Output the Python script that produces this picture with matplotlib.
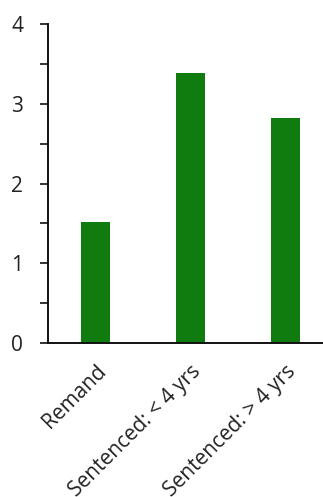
import matplotlib.pyplot as plt
from matplotlib.ticker import MultipleLocator
from matplotlib.transforms import ScaledTranslation

categories = ['Remand', 'Sentenced: < 4 yrs', 'Sentenced: > 4 yrs']
values = [1.52, 3.38, 2.82]

plt.rcParams['font.family'] = ['Open Sans', 'DejaVu Sans']

fig = plt.figure(figsize=(3.23, 4.97), dpi=100)
ax = fig.add_axes([48/323, 1-343/497, 1-48/323, (343-24)/497])

x = range(len(categories))
ax.bar(x, values, width=0.315, color='#107C10')

ax.set_ylim(0, 4)
ax.set_xlim(-0.5, 2.395)
ax.yaxis.set_major_locator(MultipleLocator(1))
ax.yaxis.set_minor_locator(MultipleLocator(0.5))
ax.set_xticks(list(x))
ax.set_xticklabels(categories, rotation=45, ha='right', rotation_mode='anchor', fontsize=15, color='#222222')

# nudge the rotated labels a little left
shift = ScaledTranslation(-6/100, 0, fig.dpi_scale_trans)
for lbl in ax.get_xticklabels():
    lbl.set_transform(lbl.get_transform() + shift)

for s in ['top', 'right']:
    ax.spines[s].set_visible(False)
for s in ['left', 'bottom']:
    ax.spines[s].set_linewidth(1.4)
    ax.spines[s].set_color('#111111')

ax.tick_params(axis='y', which='major', length=6, width=1.2, labelsize=15, pad=12, colors='#111111', labelcolor='#222222')
ax.tick_params(axis='y', which='minor', length=6, width=1.2, colors='#111111')
ax.tick_params(axis='x', length=0, pad=13)

plt.savefig('out.png', dpi=100)
